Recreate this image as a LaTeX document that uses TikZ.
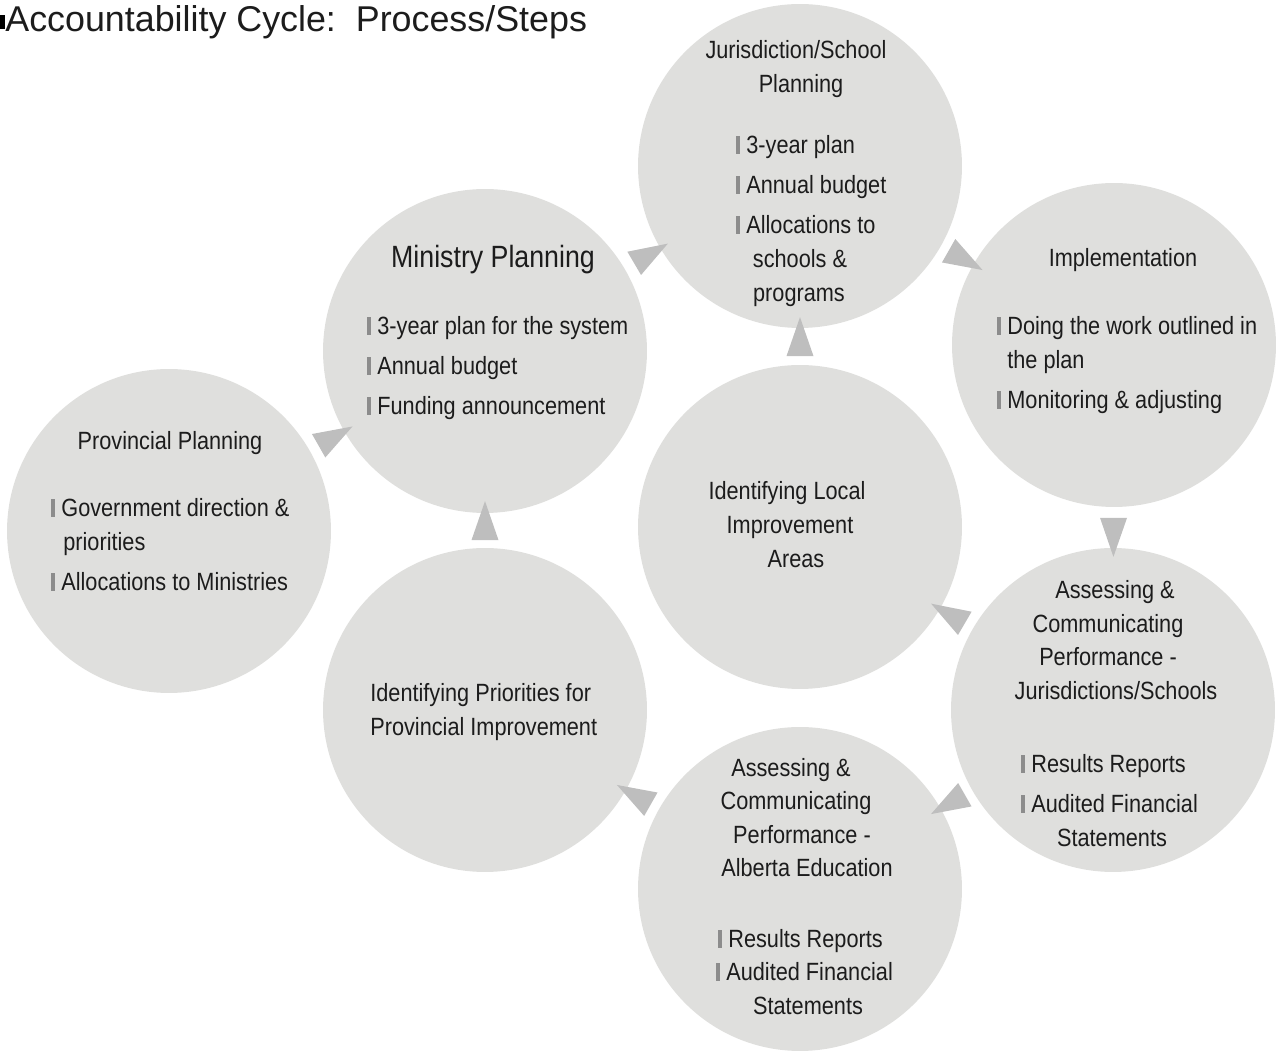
\documentclass[tikz,border=0pt]{standalone}
\usepackage{fontspec}
\setmainfont{Liberation Sans}
\newfontfamily\narrowfont{Liberation Sans}[FakeStretch=0.87]
\usetikzlibrary{shapes.geometric}
\definecolor{disc}{RGB}{223,223,221}
\definecolor{tip}{RGB}{190,190,190}
\definecolor{barcol}{RGB}{140,140,140}
\definecolor{ink}{RGB}{28,28,28}
% small grey bar in front of each list item
\newcommand{\bul}{\textcolor{barcol}{\rule{2.3pt}{10.2pt}}\hspace{3.4pt}}

\begin{document}
\begin{tikzpicture}[x=0.02cm,y=-0.02cm,
	circ/.style={circle,fill=disc,minimum size=6.48cm,inner sep=0},
	tri/.style={isosceles triangle,isosceles triangle stretches,fill=tip,minimum width=0.54cm,minimum height=0.78cm,inner sep=0,sloped,allow upside down},
	txt/.style={inner sep=0,text=ink,font=\narrowfont\fontsize{14.2}{19}\selectfont}]
	\useasboundingbox (0,0) rectangle (1276,1053);
	% title
	\fill[black] (0,15) rectangle (5,29);
	\node[anchor=base west,inner sep=0,text=ink,font=\fontsize{20.4}{24}\selectfont] (title) at (5,32) {Accountability Cycle:\ \ Process/Steps};
	% the eight steps
	\node[circ] (prov) at (169,531) {};
	\node[circ] (mins) at (485,351) {};
	\node[circ] (jur) at (800,166) {};
	\node[circ] (impl) at (1114,345) {};
	\node[circ] (asj) at (1113,710) {};
	\node[circ] (asa) at (800,889) {};
	\node[circ] (prio) at (485,710) {};
	\node[circ] (loc) at (800,527) {};
	% arrows between the steps
	\path (prov) -- node[tri] (t1) {} (mins);
	\path (mins) -- node[tri] (t2) {} (jur);
	\path (jur) -- node[tri] (t3) {} (impl);
	\path (impl) -- node[tri] (t4) {} (asj);
	\path (asj) -- node[tri] (t5) {} (asa);
	\path (asa) -- node[tri] (t6) {} (prio);
	\path (prio) -- node[tri] (t7) {} (mins);
	\path (asj) -- node[tri] (t8) {} (loc);
	\path (loc) -- node[tri] (t9) {} (jur);
	% Provincial Planning
	\node[txt,anchor=base] (prov0) at (170,450) {Provincial Planning};
	\node[txt,anchor=base west] (prov1) at (51,517) {\bul Government direction \&};
	\node[txt,anchor=base west] (prov2) at (63,551) {priorities};
	\node[txt,anchor=base west] (prov3) at (51,591) {\bul Allocations to Ministries};
	% Ministry Planning
	\node[txt,anchor=base,font=\narrowfont\fontsize{17.5}{21}\selectfont] (mins0) at (493,268) {Ministry Planning};
	\node[txt,anchor=base west] (mins1) at (367,335) {\bul 3-year plan for the system};
	\node[txt,anchor=base west] (mins2) at (367,375) {\bul Annual budget};
	\node[txt,anchor=base west] (mins3) at (367,415) {\bul Funding announcement};
	% Jurisdiction/School Planning
	\node[txt,anchor=base] (jur0) at (796,59) {Jurisdiction/School};
	\node[txt,anchor=base] (jur1) at (801,93) {Planning};
	\node[txt,anchor=base west] (jur2) at (736,154) {\bul 3-year plan};
	\node[txt,anchor=base west] (jur3) at (736,194) {\bul Annual budget};
	\node[txt,anchor=base west] (jur4) at (736,234) {\bul Allocations to};
	\node[txt,anchor=base] (jur5) at (800,268) {schools \&};
	\node[txt,anchor=base] (jur6) at (799,302) {programs};
	% Implementation
	\node[txt,anchor=base] (impl0) at (1123,267) {Implementation};
	\node[txt,anchor=base west] (impl1) at (997,335) {\bul Doing the work outlined in};
	\node[txt,anchor=base west] (impl2) at (1007,369) {the plan};
	\node[txt,anchor=base west] (impl3) at (997,409) {\bul Monitoring \& adjusting};
	% Identifying Local Improvement Areas
	\node[txt,anchor=base] (loc1) at (787,500) {Identifying Local};
	\node[txt,anchor=base] (loc2) at (790,534) {Improvement};
	\node[txt,anchor=base] (loc3) at (796,568) {Areas};
	% Assessing - Jurisdictions/Schools
	\node[txt,anchor=base] (asj1) at (1115,599) {Assessing \&};
	\node[txt,anchor=base] (asj2) at (1108,633) {Communicating};
	\node[txt,anchor=base] (asj3) at (1108,666) {Performance -};
	\node[txt,anchor=base] (asj4) at (1116,700) {Jurisdictions/Schools};
	\node[txt,anchor=base west] (asj5) at (1021,773) {\bul Results Reports};
	\node[txt,anchor=base west] (asj6) at (1021,813) {\bul Audited Financial};
	\node[txt,anchor=base] (asj7) at (1112,847) {Statements};
	% Assessing - Alberta Education
	\node[txt,anchor=base] (asa1) at (791,777) {Assessing \&};
	\node[txt,anchor=base] (asa2) at (796,810) {Communicating};
	\node[txt,anchor=base] (asa3) at (802,844) {Performance -};
	\node[txt,anchor=base] (asa4) at (807,877) {Alberta Education};
	\node[txt,anchor=base west] (asa5) at (718,948) {\bul Results Reports};
	\node[txt,anchor=base west] (asa6) at (716,981) {\bul Audited Financial};
	\node[txt,anchor=base] (asa7) at (808,1015) {Statements};
	% Identifying Priorities
	\node[txt,anchor=base west] (prio1) at (370,702) {Identifying Priorities for};
	\node[txt,anchor=base west] (prio2) at (370,736) {Provincial Improvement};
\end{tikzpicture}
\end{document}
